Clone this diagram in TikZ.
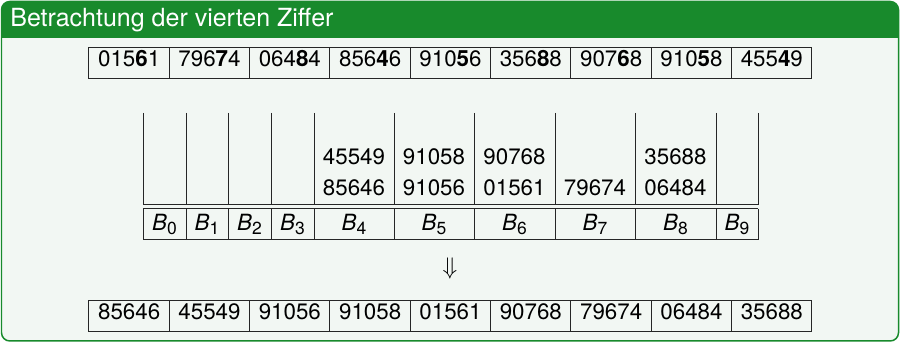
\documentclass[tikz,border=0pt]{standalone}
\usepackage{fontspec}
\setmainfont{TeX Gyre Heros}
\usetikzlibrary{positioning,calc}
\definecolor{BlockGreen}{HTML}{188A2C}
\definecolor{BlockBody}{HTML}{F2F7F3}
\newcommand{\bucketlbl}[1]{\textit{B}\raisebox{-0.3ex}{\fontsize{10.5}{12}\selectfont #1}}

\begin{document}
\begin{tikzpicture}[x=0.6pt,y=-0.6pt,font=\fontsize{13.4}{16}\selectfont,
  numcell/.style={draw=black!85, line width=0.6pt, minimum width=48.2pt, minimum height=18.6pt,
    inner sep=0pt, text height=0.7em, text depth=0.38em},
  tabline/.style={black!85, line width=0.6pt}]
\def\cw{80.33}
\useasboundingbox (0,0) rectangle (901,343);
% block with title bar
\begin{scope}
  \clip[rounded corners=5pt] (1.5,1.5) rectangle (898.5,341);
  \fill[BlockBody] (0,0) rectangle (901,343);
  \fill[BlockGreen] (0,0) rectangle (901,38);
\end{scope}
\draw[BlockGreen, line width=0.9pt, rounded corners=5pt] (1.5,1.5) rectangle (898.5,341);
\node[anchor=base west, text=white, font=\fontsize{15}{18}\selectfont, inner sep=0pt] (title) at (10,27) {Betrachtung der vierten Ziffer};

% input sequence, fourth digit in bold
\foreach \i/\a/\d/\b in {1/015/6/1,2/796/7/4,3/064/8/4,4/856/4/6,5/910/5/6,6/356/8/8,7/907/6/8,8/910/5/8,9/455/4/9}{
  \node[numcell] (in\i) at ({89+(\i-0.5)*\cw},63.5) {\a\textbf{\d}\b};
}

% buckets
\foreach \x in {143,186,228,271,314,394,474,555,635,716,758}{
  \draw[tabline] (\x,113) -- (\x,205);
  \draw[tabline] (\x,209) -- (\x,240);
}
\draw[tabline] (143,205) -- (758,205) (143,209) -- (758,209) (143,240) -- (758,240);
\foreach \i/\xa/\xb in {0/143/186,1/186/228,2/228/271,3/271/314,4/314/394,5/394/474,6/474/555,7/555/635,8/635/716,9/716/758}{
  \node[anchor=base, inner sep=0pt] (b\i) at ({(\xa+\xb)/2},231) {\bucketlbl{\i}};
}
\foreach \i/\v in {4/85646,5/91056,6/01561,7/79674,8/06484}{
  \node[anchor=base, inner sep=0pt] (low\i) at (b\i.base |- 0,196) {\v};
}
\foreach \i/\v in {4/45549,5/91058,6/90768,8/35688}{
  \node[anchor=base, inner sep=0pt] (up\i) at (b\i.base |- 0,165) {\v};
}

\node (arr) at (450,269) {$\Downarrow$};

% sorted sequence
\foreach \i/\v in {1/85646,2/45549,3/91056,4/91058,5/01561,6/90768,7/79674,8/06484,9/35688}{
  \node[numcell] (out\i) at ({89+(\i-0.5)*\cw},316.5) {\v};
}
\end{tikzpicture}
\end{document}
